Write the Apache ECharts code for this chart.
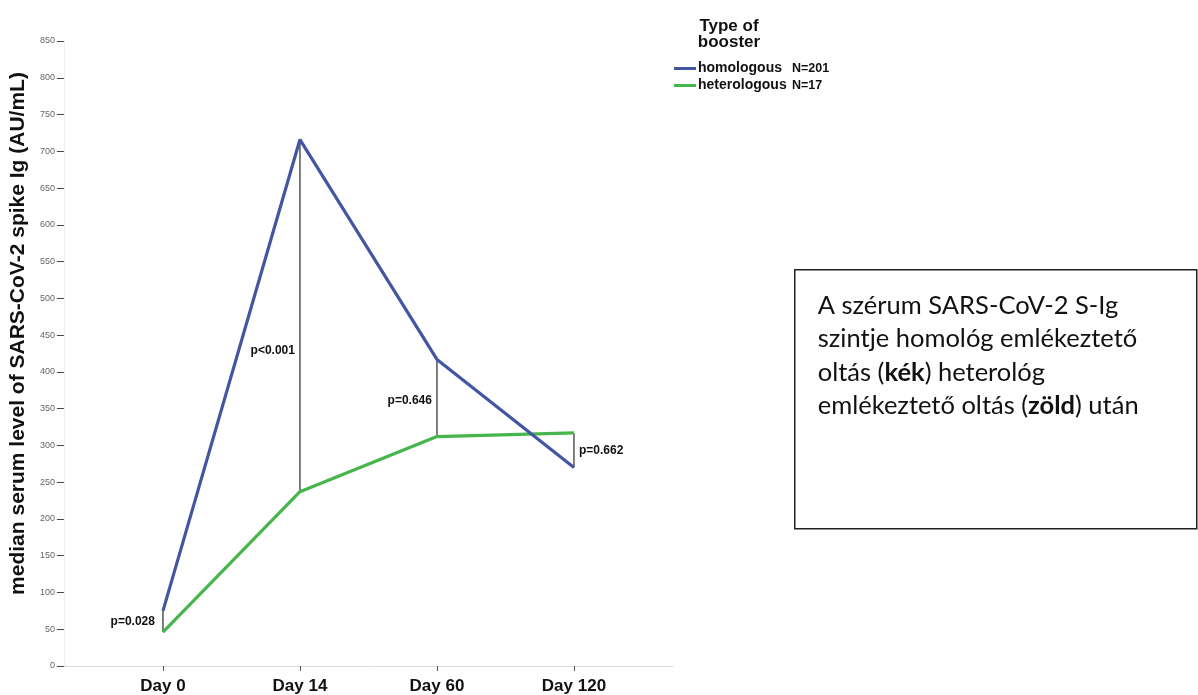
<!DOCTYPE html>
<html>
<head>
<meta charset="utf-8">
<script src="https://cdn.jsdelivr.net/npm/echarts@6/dist/echarts.min.js"></script>
<style>
  html, body { margin: 0; padding: 0; background: #fff; }
  #chart { width: 1198px; height: 695px; }
</style>
</head>
<body>
<div id="chart"></div>
<script>
// Time points of the follow-up
const days = ['Day 0', 'Day 14', 'Day 60', 'Day 120'];

// Median serum SARS-CoV-2 spike Ig (AU/mL) per booster type
const homologous = [75, 716, 417, 270];
const heterologous = [46, 237, 312, 317];

// Group sizes shown in the legend
const groupSizes = { homologous: 'N=201', heterologous: 'N=17' };

// p-values of the between-group comparison at each time point
const pValues = ['p=0.028', 'p<0.001', 'p=0.646', 'p=0.662'];

// Y axis range and step
const yMin = 0, yMax = 850, yStep = 50;

const BLUE = '#4256a2';
const GREEN = '#46b64c';
const SANS = '"Liberation Sans", Arial, sans-serif';

// Where each p-value sits relative to its connector line
const pLabelStyle = [
  { side: 'left', frac: 0.5, gap: 8 },
  { side: 'left', frac: 0.6, gap: 5 },
  { side: 'left', frac: 0.53, gap: 5 },
  { side: 'right', frac: 0.5, gap: 5 }
];

const chart = echarts.init(document.getElementById('chart'), null, { renderer: 'canvas' });

const dayIdx = days.map((d, i) => i);

const option = {
  backgroundColor: '#ffffff',
  animation: false,
  grid: { left: 58, right: 525, top: 41, bottom: 28, containLabel: false },
  xAxis: {
    type: 'value',
    min: -0.723,
    max: 3.723,
    splitLine: { show: false },
    axisLine: { show: true, onZero: false, lineStyle: { color: '#dcdcdc', width: 1 } },
    axisTick: {
      show: true,
      customValues: dayIdx,
      length: 5,
      lineStyle: { color: '#555', width: 1 }
    },
    axisLabel: {
      customValues: dayIdx,
      formatter: v => days[Math.round(v)] || '',
      margin: 12,
      color: '#111',
      fontFamily: SANS,
      fontWeight: 'bold',
      fontSize: 17
    }
  },
  yAxis: {
    type: 'value',
    min: yMin,
    max: yMax,
    interval: yStep,
    name: 'median serum level of SARS-CoV-2 spike Ig (AU/mL)',
    nameLocation: 'middle',
    nameGap: 31,
    nameTextStyle: {
      color: '#111',
      fontFamily: SANS,
      fontWeight: 'bold',
      fontSize: 21,
      padding: [0, 0, 0, 40]
    },
    splitLine: { show: false },
    axisLine: { show: true, onZero: false, lineStyle: { color: '#efefef', width: 1 } },
    axisTick: { show: true, length: 7, lineStyle: { color: '#444', width: 1 } },
    axisLabel: {
      margin: 9,
      color: '#666',
      fontFamily: SANS,
      fontSize: 9
    }
  },
  legend: {
    orient: 'vertical',
    left: 669,
    top: 55,
    itemWidth: 22,
    itemHeight: 3,
    itemGap: 0,
    icon: 'rect',
    data: ['homologous', 'heterologous'],
    formatter: name => '{n|' + name + '}{s|' + groupSizes[name] + '}',
    textStyle: {
      padding: [0, 0, 0, -3],
      lineHeight: 17,
      rich: {
        n: { width: 94, fontSize: 14, lineHeight: 17, fontWeight: 'bold', color: '#111', fontFamily: SANS },
        s: { fontSize: 12.5, lineHeight: 17, fontWeight: 'bold', color: '#111', fontFamily: SANS }
      }
    }
  },
  graphic: [
    {
      type: 'text',
      x: 729,
      y: 18,
      style: {
        text: 'Type of\nbooster',
        align: 'center',
        fill: '#111',
        font: 'bold 17px "Liberation Sans", Arial, sans-serif',
        lineHeight: 16
      }
    },
    {
      type: 'group',
      left: 794,
      top: 269,
      children: [
        {
          type: 'rect',
          shape: { x: 0, y: 0, width: 402, height: 259 },
          style: { fill: '#fff', stroke: '#222', lineWidth: 1.5 }
        },
        {
          type: 'text',
          x: 23,
          y: 19,
          style: {
            text: 'A szérum SARS-CoV-2 S-Ig\nszintje homológ emlékeztető\noltás ({b|kék}) heterológ\nemlékeztető oltás ({b|zöld}) után',
            fill: '#111',
            font: '25.5px Lato, "Open Sans", sans-serif',
            lineHeight: 33.5,
            rich: {
              b: { fontWeight: 'bold', fontSize: 25.5, fontFamily: 'Lato, "Open Sans", sans-serif', lineHeight: 33.5, fill: '#111' }
            }
          }
        }
      ]
    }
  ],
  series: [
    {
      name: 'p-values',
      type: 'custom',
      z: 1,
      silent: true,
      data: dayIdx.map(i => [i, homologous[i], heterologous[i]]),
      renderItem: (params, api) => {
        const i = params.dataIndex;
        const x = api.value(0);
        const top = api.coord([x, api.value(1)]);
        const bot = api.coord([x, api.value(2)]);
        const st = pLabelStyle[i];
        const ly = top[1] + (bot[1] - top[1]) * st.frac;
        const left = st.side === 'left';
        return {
          type: 'group',
          children: [
            {
              type: 'line',
              shape: { x1: top[0], y1: top[1], x2: bot[0], y2: bot[1] },
              style: { stroke: '#2a2a2a', lineWidth: 1.2 }
            },
            {
              type: 'text',
              x: top[0] + (left ? -st.gap : st.gap),
              y: ly,
              style: {
                text: pValues[i],
                align: left ? 'right' : 'left',
                verticalAlign: 'middle',
                fill: '#111',
                font: 'bold 12px "Liberation Sans", Arial, sans-serif'
              }
            }
          ]
        };
      }
    },
    {
      name: 'homologous',
      type: 'line',
      z: 3,
      showSymbol: false,
      color: BLUE,
      lineStyle: { color: BLUE, width: 3.2 },
      data: dayIdx.map(i => [i, homologous[i]])
    },
    {
      name: 'heterologous',
      type: 'line',
      z: 2,
      showSymbol: false,
      color: GREEN,
      lineStyle: { color: GREEN, width: 3.2 },
      data: dayIdx.map(i => [i, heterologous[i]])
    }
  ]
};

chart.setOption(option);
</script>
</body>
</html>
